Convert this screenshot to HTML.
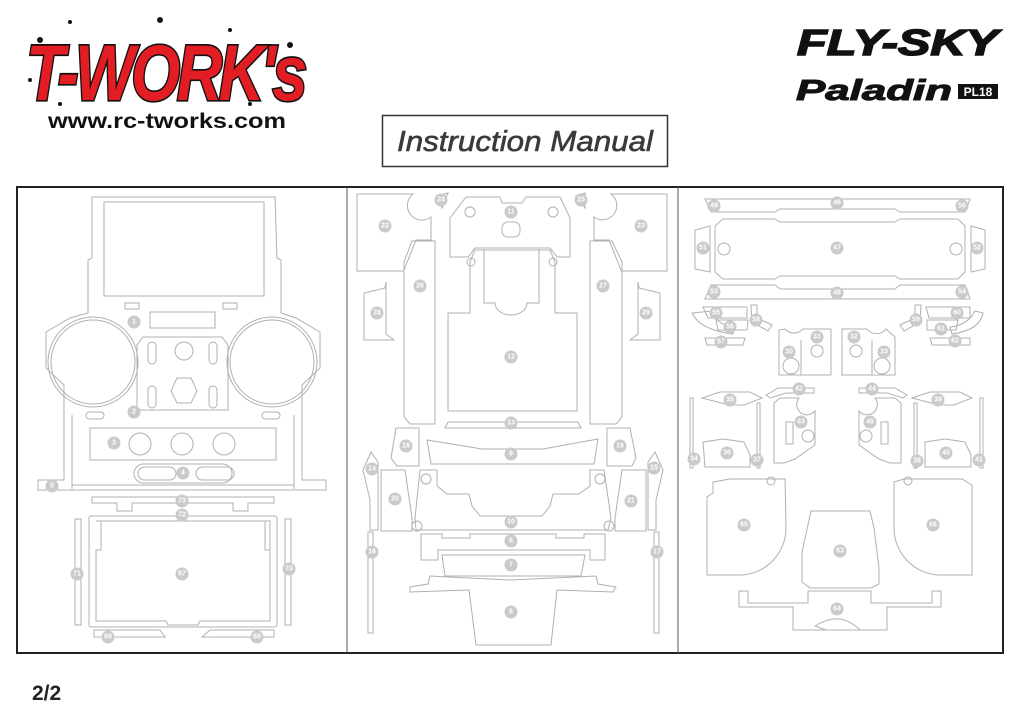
<!DOCTYPE html>
<html><head><meta charset="utf-8"><style>
html,body{margin:0;padding:0;background:#fff;}
svg{display:block;}
.p{fill:none;stroke:#b0b0b0;stroke-width:1;}
.b circle{fill:#cacaca;r:6.5;}
.b text{fill:#fff;font-family:"Liberation Sans",sans-serif;font-size:7px;font-weight:bold;text-anchor:middle;dominant-baseline:central;}
</style></head><body>
<svg width="1024" height="724" viewBox="0 0 1024 724" xmlns="http://www.w3.org/2000/svg">
<!-- header -->
<g font-family="Liberation Sans, sans-serif">
<g fill="#111">
<circle cx="40" cy="40" r="3"/><circle cx="70" cy="22" r="2"/><circle cx="160" cy="20" r="3"/><circle cx="230" cy="30" r="2"/><circle cx="290" cy="45" r="3"/><circle cx="60" cy="104" r="2"/><circle cx="250" cy="104" r="2"/><circle cx="30" cy="80" r="2"/>
</g>
<text x="0" y="0" font-size="72" font-weight="bold" font-style="italic" fill="#e31d24" stroke="#111" stroke-width="3" paint-order="stroke" letter-spacing="-4" transform="translate(26 100) scale(1 1.1)" textLength="278" lengthAdjust="spacingAndGlyphs">T-WORK's</text>
<text x="48" y="128" font-size="21" font-weight="bold" fill="#111" textLength="238" lengthAdjust="spacingAndGlyphs">www.rc-tworks.com</text>
<text x="797" y="55" font-size="36" font-weight="bold" font-style="italic" fill="#111" stroke="#111" stroke-width="1.5" textLength="201" lengthAdjust="spacingAndGlyphs">FLY-SKY</text>
<text x="796" y="100" font-size="29" font-weight="bold" font-style="italic" fill="#111" stroke="#111" stroke-width="1" textLength="156" lengthAdjust="spacingAndGlyphs">Paladin</text>
<rect x="958" y="84" width="40" height="15" fill="#111"/>
<text x="978" y="96" font-size="12" font-weight="bold" fill="#fff" text-anchor="middle">PL18</text>
<rect x="382.5" y="115.5" width="285" height="51" fill="#fff" stroke="#333" stroke-width="1.5"/>
<text x="525" y="151" font-size="29" font-style="italic" fill="#3a3a3a" stroke="#3a3a3a" stroke-width="0.6" text-anchor="middle" textLength="256" lengthAdjust="spacingAndGlyphs">Instruction Manual</text>
<text x="32" y="700" font-size="21" font-weight="bold" fill="#222">2/2</text>
</g>
<!-- frame -->
<rect x="17" y="187" width="986" height="466" fill="none" stroke="#222" stroke-width="2"/>
<line x1="347" y1="187" x2="347" y2="653" stroke="#555" stroke-width="1"/>
<line x1="678" y1="187" x2="678" y2="653" stroke="#555" stroke-width="1"/>

<!-- panel 1 -->
<g class="p">
<path d="M92 197 H275 L277 258 L281 260 V313 L296 318 L320 332 V368 L302 385 V480 H326 V490 H38 V480 H64 V385 L46 368 V332 L70 318 L88 313 V260 L92 258 Z"/>
<rect x="104" y="202" width="160" height="94"/>
<rect x="125" y="303" width="14" height="6"/><rect x="223" y="303" width="14" height="6"/>
<rect x="150" y="312" width="65" height="16"/>
<circle cx="93" cy="362" r="42"/><circle cx="93" cy="362" r="45"/>
<circle cx="272" cy="362" r="42"/><circle cx="272" cy="362" r="45"/>
<path d="M143 337 H222 L228 345 V410 H137 V345 Z"/>
<rect x="148" y="342" width="8" height="22" rx="4"/><rect x="209" y="342" width="8" height="22" rx="4"/>
<rect x="148" y="386" width="8" height="22" rx="4"/><rect x="209" y="386" width="8" height="22" rx="4"/>
<circle cx="184" cy="351" r="9"/>
<polygon points="177,378 191,378 197,391 191,403 177,403 171,391"/>
<rect x="86" y="412" width="18" height="7" rx="3.5"/><rect x="262" y="412" width="18" height="7" rx="3.5"/>
<path d="M72 415 V489 M294 415 V489 M72 485 H294"/>
<rect x="90" y="428" width="186" height="32"/>
<circle cx="140" cy="444" r="11"/><circle cx="182" cy="444" r="11"/><circle cx="224" cy="444" r="11"/>
<rect x="134" y="464" width="98" height="19" rx="9.5"/>
<rect x="138" y="467" width="38" height="13" rx="6.5"/><rect x="196" y="467" width="38" height="13" rx="6.5"/>
<path d="M92 497 H274 V503 H248 V511 H233 V503 H132 V511 H117 V503 H92 Z"/>
<rect x="89" y="516" width="188" height="111" rx="2"/>
<path d="M96 521 H270 V550 H265 V521 M270 550 V621 H200 L198 625 H168 L166 621 H96 V550 H101 V521"/>
<rect x="75" y="519" width="6" height="106"/><rect x="285" y="519" width="6" height="106"/>
<path d="M94 630 H160 L165 637 H94 Z M202 637 L210 630 H274 V637 Z"/>
</g>
<g class="b">
<circle cx="134" cy="322" r="6.5"/><text x="134" y="322">1</text>
<circle cx="134" cy="412" r="6.5"/><text x="134" y="412">2</text>
<circle cx="114" cy="443" r="6.5"/><text x="114" y="443">3</text>
<circle cx="183" cy="473" r="6.5"/><text x="183" y="473">4</text>
<circle cx="52" cy="486" r="6.5"/><text x="52" y="486">5</text>
<circle cx="182" cy="501" r="6.5"/><text x="182" y="501">73</text>
<circle cx="182" cy="515" r="6.5"/><text x="182" y="515">72</text>
<circle cx="77" cy="574" r="6.5"/><text x="77" y="574">71</text>
<circle cx="182" cy="574" r="6.5"/><text x="182" y="574">67</text>
<circle cx="289" cy="569" r="6.5"/><text x="289" y="569">70</text>
<circle cx="108" cy="637" r="6.5"/><text x="108" y="637">68</text>
<circle cx="257" cy="637" r="6.5"/><text x="257" y="637">69</text>
</g>

<!-- panel 2 -->
<g class="p">
<path d="M357 194 H413 A13 13 0 0 0 431 217 V240 H416 L404 270 V271 H357 Z"/>
<path d="M611 194 A13 13 0 0 1 594 217 V240 H609 L621 270 V271 H667 V194 Z"/>
<path d="M466 197 H500 L502 203 H522 L526 197 H560 L570 218 V257 H557 L550 248 H475 L468 257 H450 V218 Z"/>
<rect x="502" y="222" width="18" height="15" rx="6"/>
<circle cx="470" cy="212" r="5"/><circle cx="553" cy="212" r="5"/>
<path d="M470 262 L475 250 H550 L555 262 V313 H577 V411 H448 V313 H470 Z"/>
<path d="M484 249 V303 H495 A16 12 0 0 0 527 303 H539 V249"/>
<circle cx="471" cy="262" r="4"/><circle cx="553" cy="262" r="4"/>
<path d="M412 241 H435 V424 H410 L404 417 V262 Z"/>
<path d="M590 241 H612 L622 262 V417 L616 424 H590 Z"/>
<path d="M364 293 L385 288 L386 282 V334 L394 340 V340 H371 L364 340 Z"/>
<path d="M660 293 L639 288 L638 282 V334 L630 340 H653 L660 340 Z"/>
<path d="M448 422 H578 L581 428 H445 Z"/>
<path d="M396 428 H419 V466 H397 L391 458 Z"/>
<path d="M607 428 H630 L636 458 L632 466 H607 Z"/>
<path d="M427 440 L482 449 H543 L598 439 L594 464 H431 Z"/>
<path d="M363 470 L371 452 L378 462 V530 H370 V500 Z"/>
<path d="M663 470 L655 452 L648 462 V530 H656 V500 Z"/>
<path d="M381 470 H405 L412 518 V531 H381 Z"/>
<path d="M622 470 H646 V531 H615 V518 Z"/>
<path d="M420 470 H437 V486 L447 494 H469 L472 506 L480 516 H542 L550 506 L553 494 H579 L590 486 V470 H604 L611 518 L608 530 H416 L415 518 Z"/>
<circle cx="426" cy="479" r="5"/><circle cx="600" cy="479" r="5"/>
<circle cx="417" cy="526" r="5"/><circle cx="609" cy="526" r="5"/>
<path d="M421 534 H442 V538 H470 V534 H556 V538 H584 V534 H605 V560 H590 V550 H438 V560 H421 Z"/>
<path d="M442 555 H585 L581 576 H445 Z"/>
<path d="M410 587 L428 584 L430 576 L510 580 L596 576 L598 584 L616 587 L613 592 L557 590 L551 645 H476 L469 590 L410 592 Z"/>
<rect x="368" y="532" width="5" height="101"/><rect x="654" y="532" width="5" height="101"/>
<path d="M437 196 L448 193 L442 208 Z M585 193 L576 196 L585 208 Z"/>
</g>
<g class="b">
<circle cx="441" cy="200" r="6.5"/><text x="441" y="200">24</text>
<circle cx="581" cy="200" r="6.5"/><text x="581" y="200">25</text>
<circle cx="511" cy="212" r="6.5"/><text x="511" y="212">11</text>
<circle cx="385" cy="226" r="6.5"/><text x="385" y="226">22</text>
<circle cx="641" cy="226" r="6.5"/><text x="641" y="226">23</text>
<circle cx="420" cy="286" r="6.5"/><text x="420" y="286">26</text>
<circle cx="603" cy="286" r="6.5"/><text x="603" y="286">27</text>
<circle cx="377" cy="313" r="6.5"/><text x="377" y="313">28</text>
<circle cx="646" cy="313" r="6.5"/><text x="646" y="313">29</text>
<circle cx="511" cy="357" r="6.5"/><text x="511" y="357">12</text>
<circle cx="511" cy="423" r="6.5"/><text x="511" y="423">13</text>
<circle cx="406" cy="446" r="6.5"/><text x="406" y="446">18</text>
<circle cx="620" cy="446" r="6.5"/><text x="620" y="446">19</text>
<circle cx="511" cy="454" r="6.5"/><text x="511" y="454">9</text>
<circle cx="372" cy="469" r="6.5"/><text x="372" y="469">14</text>
<circle cx="654" cy="468" r="6.5"/><text x="654" y="468">15</text>
<circle cx="395" cy="499" r="6.5"/><text x="395" y="499">20</text>
<circle cx="631" cy="501" r="6.5"/><text x="631" y="501">21</text>
<circle cx="511" cy="522" r="6.5"/><text x="511" y="522">10</text>
<circle cx="511" cy="541" r="6.5"/><text x="511" y="541">6</text>
<circle cx="511" cy="565" r="6.5"/><text x="511" y="565">7</text>
<circle cx="372" cy="552" r="6.5"/><text x="372" y="552">16</text>
<circle cx="657" cy="552" r="6.5"/><text x="657" y="552">17</text>
<circle cx="511" cy="612" r="6.5"/><text x="511" y="612">8</text>
</g>

<!-- panel 3 -->
<g class="p">
<path d="M705 199 H970 L965 212 H900 L895 209 H780 L775 212 H711 Z"/>
<path d="M723 219 H775 L780 222 H895 L900 219 H958 L965 226 V272 L958 279 H900 L895 276 H780 L775 279 H723 L715 272 V226 Z"/>
<circle cx="724" cy="249" r="6"/><circle cx="956" cy="249" r="6"/>
<path d="M695 230 L710 226 V272 L695 269 Z M971 226 L985 230 V269 L971 272 Z"/>
<path d="M711 285 H775 L780 289 H895 L900 285 H965 L970 299 H705 Z"/>
<path d="M692 313 L712 311 Q716 325 735 327 L733 334 Q700 330 692 313 Z"/>
<path d="M703 307 H747 V318 H708 Z M716 320 H748 L747 330 H718 Z M705 338 H745 L743 345 H707 Z"/>
<path d="M751 305 H757 V318 L772 325 L768 331 L752 322 Z"/>
<path d="M921 305 H915 V318 L900 325 L904 331 L920 322 Z"/>
<path d="M926 307 H970 V318 H929 Z M927 320 H958 L956 330 H927 Z M930 338 H970 V345 H932 Z"/>
<path d="M983 313 L975 311 Q968 325 950 327 L952 334 Q980 330 983 313 Z"/>
<path d="M779 330 L785 329 A12 12 0 0 0 803 329 H831 V375 H779 Z M801 340 V375"/>
<circle cx="791" cy="366" r="8"/><circle cx="817" cy="351" r="6"/>
<path d="M842 329 H867 A12 12 0 0 0 886 329 L895 337 V375 H842 Z M872 340 V375"/>
<circle cx="856" cy="351" r="6"/><circle cx="882" cy="366" r="8"/>
<path d="M766 395 L778 388 H814 V393 H786 L770 398 Z"/>
<path d="M907 395 L895 388 H859 V393 H887 L903 398 Z"/>
<path d="M702 398 L720 392 H750 L762 398 L744 405 H729 Z"/>
<path d="M912 398 L930 392 H960 L972 398 L954 405 H939 Z"/>
<path d="M774 403 L780 398 H799 A8 8 0 0 0 815 411 V445 L795 459 L784 463 H774 Z"/>
<rect x="786" y="422" width="7" height="22"/><circle cx="808" cy="436" r="6"/>
<path d="M901 403 L895 398 H875 A8 8 0 0 1 859 411 V445 L879 459 L890 463 H901 Z"/>
<rect x="881" y="422" width="7" height="22"/><circle cx="866" cy="436" r="6"/>
<path d="M703 442 L723 439 L744 442 L750 455 V467 H705 Z"/>
<path d="M925 442 L945 439 L965 442 L971 455 V467 H925 Z"/>
<rect x="690" y="398" width="3" height="70"/><rect x="757" y="403" width="3" height="65"/>
<rect x="914" y="403" width="3" height="65"/><rect x="980" y="398" width="3" height="70"/>
<path d="M713 482 L730 479 H785 L786 528 A47 47 0 0 1 740 575 H707 V497 L713 493 Z"/>
<circle cx="771" cy="481" r="4"/>
<path d="M894 482 L904 479 H962 L972 485 V575 H940 A47 47 0 0 1 894 528 Z"/>
<circle cx="908" cy="481" r="4"/>
<path d="M811 511 H870 L874 528 L879 568 V584 L871 588 H810 L802 582 V552 Z"/>
<path d="M739 591 H748 V603 H808 V591 H871 V603 H932 V591 H941 V607 H887 V630 H826 L815 626 Q840 610 860 630 H793 V607 H739 Z"/>
</g>
<g class="b">
<circle cx="837" cy="203" r="6.5"/><text x="837" y="203">46</text>
<circle cx="714" cy="206" r="6.5"/><text x="714" y="206">49</text>
<circle cx="962" cy="206" r="6.5"/><text x="962" y="206">50</text>
<circle cx="837" cy="248" r="6.5"/><text x="837" y="248">47</text>
<circle cx="703" cy="248" r="6.5"/><text x="703" y="248">51</text>
<circle cx="977" cy="248" r="6.5"/><text x="977" y="248">52</text>
<circle cx="837" cy="293" r="6.5"/><text x="837" y="293">48</text>
<circle cx="714" cy="292" r="6.5"/><text x="714" y="292">53</text>
<circle cx="962" cy="292" r="6.5"/><text x="962" y="292">54</text>
<circle cx="716" cy="313" r="6.5"/><text x="716" y="313">55</text>
<circle cx="730" cy="327" r="6.5"/><text x="730" y="327">56</text>
<circle cx="721" cy="342" r="6.5"/><text x="721" y="342">57</text>
<circle cx="756" cy="320" r="6.5"/><text x="756" y="320">58</text>
<circle cx="916" cy="320" r="6.5"/><text x="916" y="320">59</text>
<circle cx="957" cy="313" r="6.5"/><text x="957" y="313">60</text>
<circle cx="941" cy="329" r="6.5"/><text x="941" y="329">61</text>
<circle cx="955" cy="341" r="6.5"/><text x="955" y="341">62</text>
<circle cx="817" cy="337" r="6.5"/><text x="817" y="337">31</text>
<circle cx="854" cy="337" r="6.5"/><text x="854" y="337">32</text>
<circle cx="789" cy="352" r="6.5"/><text x="789" y="352">30</text>
<circle cx="884" cy="352" r="6.5"/><text x="884" y="352">33</text>
<circle cx="799" cy="389" r="6.5"/><text x="799" y="389">42</text>
<circle cx="872" cy="389" r="6.5"/><text x="872" y="389">44</text>
<circle cx="730" cy="400" r="6.5"/><text x="730" y="400">35</text>
<circle cx="938" cy="400" r="6.5"/><text x="938" y="400">39</text>
<circle cx="801" cy="422" r="6.5"/><text x="801" y="422">43</text>
<circle cx="870" cy="422" r="6.5"/><text x="870" y="422">45</text>
<circle cx="727" cy="453" r="6.5"/><text x="727" y="453">36</text>
<circle cx="946" cy="453" r="6.5"/><text x="946" y="453">40</text>
<circle cx="694" cy="459" r="6.5"/><text x="694" y="459">34</text>
<circle cx="757" cy="460" r="6.5"/><text x="757" y="460">37</text>
<circle cx="917" cy="461" r="6.5"/><text x="917" y="461">38</text>
<circle cx="979" cy="460" r="6.5"/><text x="979" y="460">41</text>
<circle cx="744" cy="525" r="6.5"/><text x="744" y="525">65</text>
<circle cx="933" cy="525" r="6.5"/><text x="933" y="525">66</text>
<circle cx="840" cy="551" r="6.5"/><text x="840" y="551">63</text>
<circle cx="837" cy="609" r="6.5"/><text x="837" y="609">64</text>
</g>
</svg>
</body></html>
